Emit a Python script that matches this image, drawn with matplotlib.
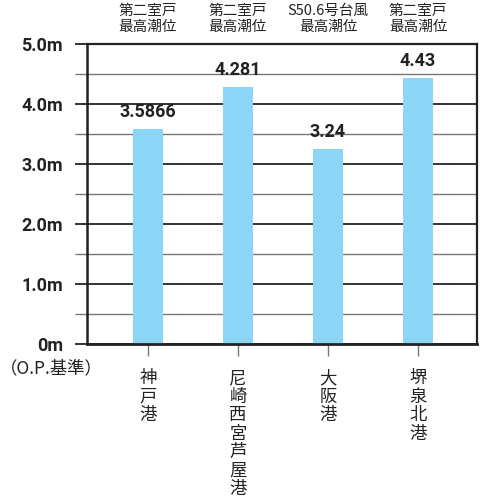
import matplotlib
matplotlib.use("Agg")
import matplotlib.pyplot as plt
from matplotlib.ticker import MultipleLocator

# data
ports = ["神戸港", "尼崎西宮芦屋港", "大阪港", "堺泉北港"]
heights = [3.5866, 4.281, 3.24, 4.43]
value_labels = ["3.5866", "4.281", "3.24", "4.43"]
notes = ["第二室戸\n最高潮位", "第二室戸\n最高潮位", "S50.6号台風\n最高潮位", "第二室戸\n最高潮位"]
yticks = [0, 1, 2, 3, 4, 5]
ytick_labels = ["0m", "1.0m", "2.0m", "3.0m", "4.0m", "5.0m"]

CJK = ["Noto Sans CJK JP", "DejaVu Sans"]
NUM = ["Roboto", "Noto Sans CJK JP", "DejaVu Sans"]
bar_color = "#8bd5f6"

fig = plt.figure(figsize=(4.8, 4.99), dpi=100)
ax = fig.add_axes([0.181, 0.3116, 0.813, 0.6004])

x = list(range(len(ports)))
ax.bar(x, heights, width=0.333, color=bar_color, zorder=2)

ax.set_xlim(-0.678, 3.656)
ax.set_ylim(0, 5)

# gridlines: full metres dark, half metres grey
ax.yaxis.set_major_locator(MultipleLocator(1))
ax.yaxis.set_minor_locator(MultipleLocator(0.5))
ax.grid(axis="y", which="major", color="#333333", linewidth=1.4, zorder=1)
ax.grid(axis="y", which="minor", color="#777777", linewidth=1.0, zorder=1)
ax.tick_params(axis="y", which="major", length=8.6, width=1.4, color="#333333", pad=8.6)
ax.tick_params(axis="y", which="minor", length=8.6, width=1.0, color="#777777")
ax.set_yticks(yticks)
ax.set_yticklabels(ytick_labels, family=NUM, fontweight="bold", fontsize=13, color="#222222")

for side in ["left", "bottom", "right", "top"]:
    ax.spines[side].set_color("#222222")
ax.spines["left"].set_linewidth(1.8)
ax.spines["bottom"].set_linewidth(2.0)
ax.spines["right"].set_linewidth(1.6)
ax.spines["top"].set_linewidth(1.6)

# category labels, stacked vertically
ax.set_xticks(x)
ax.set_xticklabels(["\n".join(p) for p in ports], family=CJK, fontsize=12.5,
                   linespacing=1.03, va="top", color="#222222")
ax.tick_params(axis="x", length=8.6, width=1.0, color="#777777", pad=10)

# value labels and notes
for i, h in enumerate(heights):
    ax.annotate(value_labels[i], xy=(i, h), xytext=(0, 8), textcoords="offset pixels",
                ha="center", va="bottom", family=NUM, fontweight="bold",
                fontsize=13, color="#222222", zorder=3)
    ax.annotate(notes[i], xy=(i, 1), xycoords=("data", "axes fraction"),
                xytext=(0, 10), textcoords="offset pixels", ha="center", va="bottom",
                family=CJK, fontsize=10.5, linespacing=1.2, color="#222222",
                annotation_clip=False)

fig.text(0.0, 1 - 368 / 499, "（O.P.基準）", family=CJK, fontsize=12.5,
         ha="left", va="center", color="#222222")

fig.savefig("out.png", dpi=100)
